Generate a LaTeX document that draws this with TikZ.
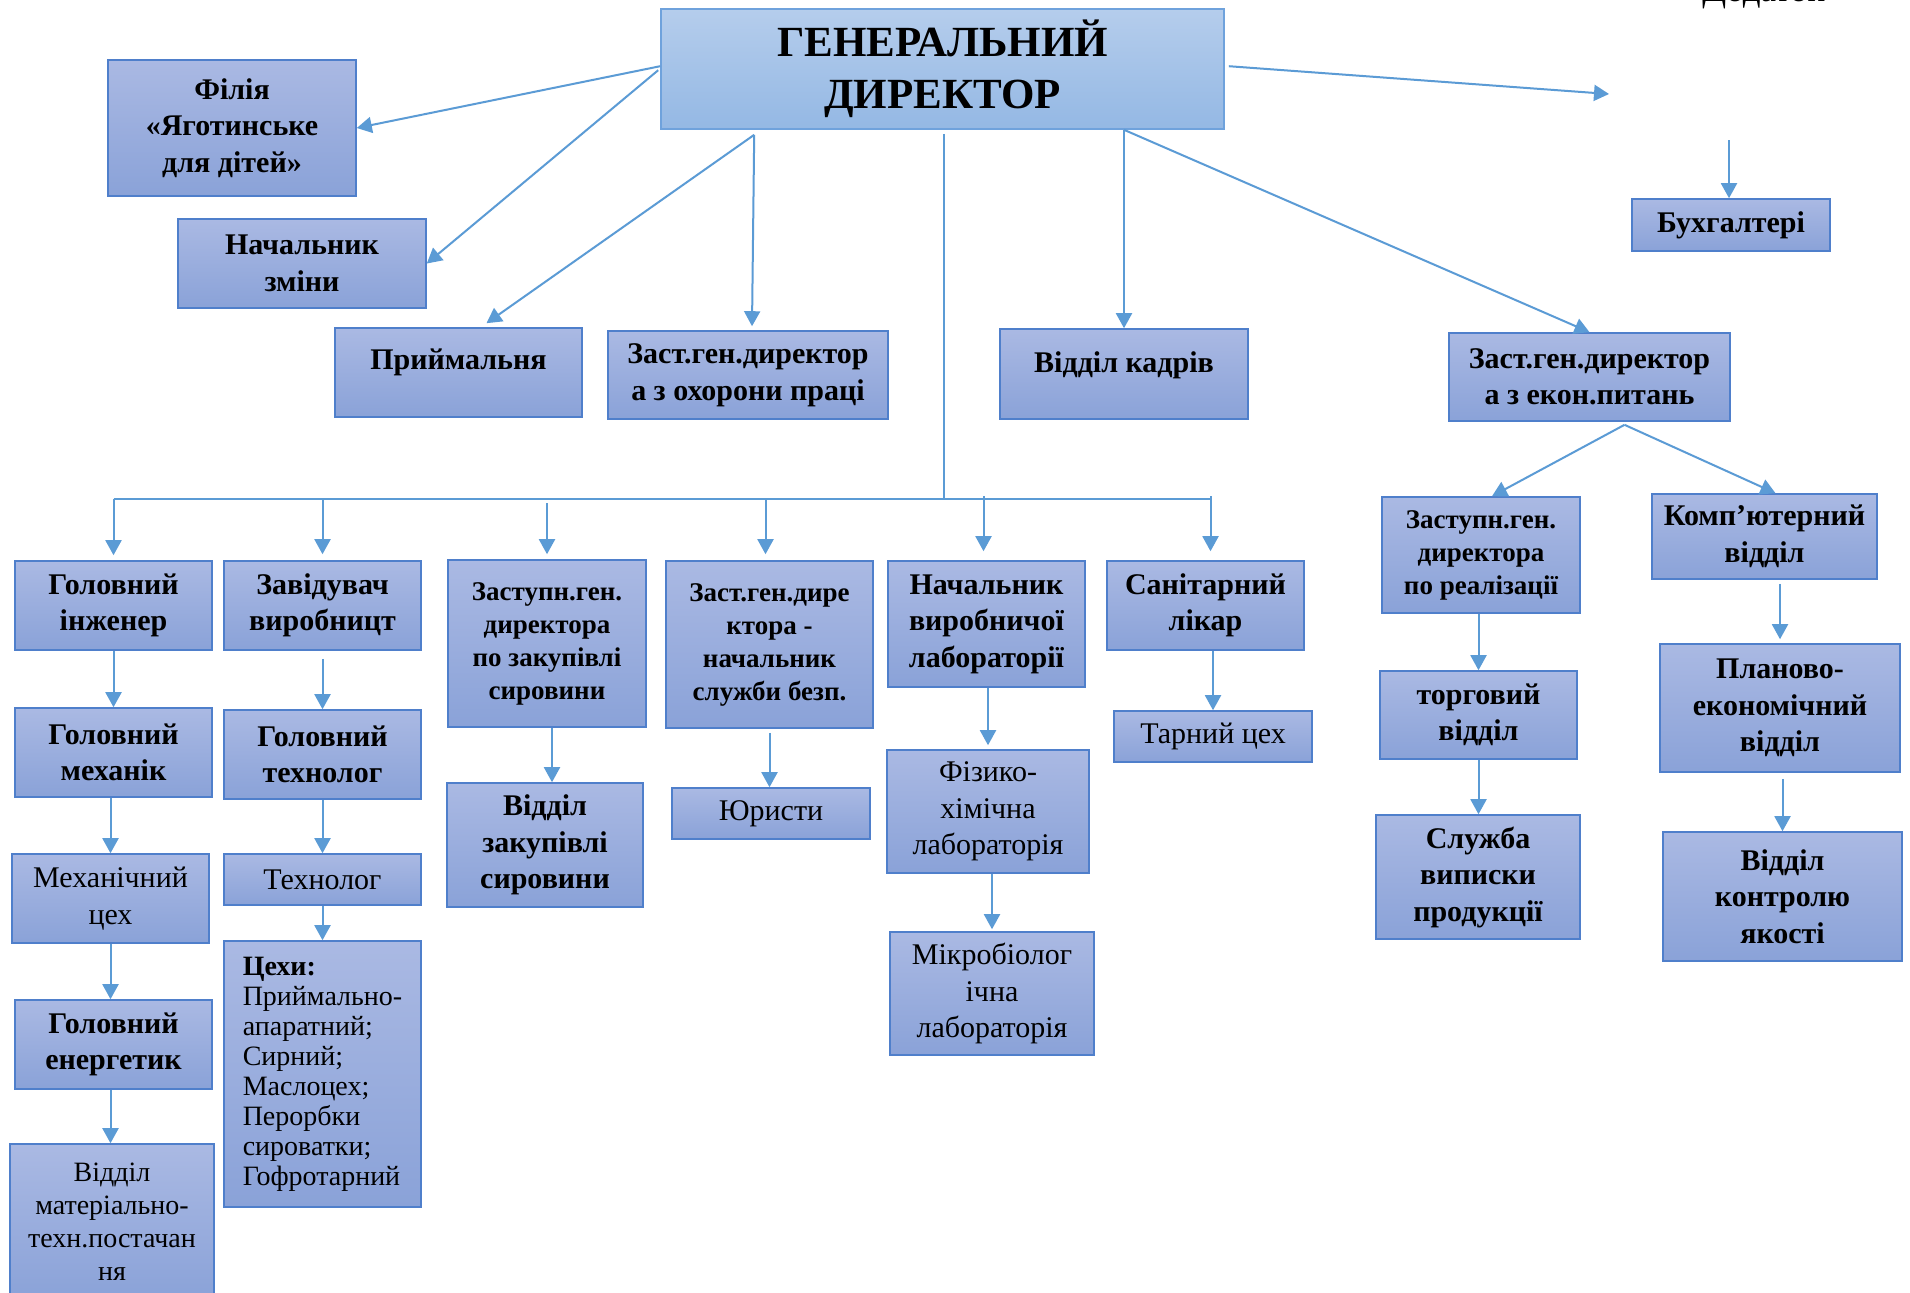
\documentclass[tikz,border=0pt]{standalone}
\usepackage{fontspec}
\setmainfont{Liberation Serif}[BoldFont={Liberation Serif Bold},ItalicFont={Liberation Serif Italic}]
\usetikzlibrary{arrows.meta,calc}
\definecolor{boxtop}{HTML}{AAB9E3}
\definecolor{boxbot}{HTML}{8AA2D8}
\definecolor{boxline}{HTML}{4F7FCB}
\definecolor{gdtop}{HTML}{B5CDEC}
\definecolor{gdbot}{HTML}{94B8E4}
\definecolor{gdline}{HTML}{6FA2DC}
\definecolor{arrc}{HTML}{5B9BD5}
\newcommand{\myfs}[2]{\fontsize{#1}{#2}\selectfont}
\begin{document}
\begin{tikzpicture}[x=0.5pt,y=-0.5pt,
  sz/.style 2 args={minimum width=#1*0.5pt, minimum height=#2*0.5pt},
  box/.style={draw=boxline, line width=0.8pt, top color=boxtop, bottom color=boxbot,
    inner sep=0pt, align=center, font=\bfseries\myfs{15pt}{18.25pt}},
  reg/.style={font=\myfs{15pt}{18.25pt}},
  small/.style={font=\bfseries\myfs{13.5pt}{16.5pt}},
  gdbox/.style={draw=gdline, line width=0.8pt, top color=gdtop, bottom color=gdbot,
    inner sep=0pt, align=center, font=\bfseries\myfs{21.5pt}{26pt}},
  arr/.style={draw=arrc, line width=1pt, -{Triangle[length=7.5pt,width=8pt]}},
  busline/.style={draw=arrc, line width=0.6pt}]
\useasboundingbox (0,0) rectangle (1910,1292);
\fill[white] (0,0) rectangle (1910,1292);

\node[anchor=base west, inner sep=0pt, font=\myfs{17.5pt}{20pt}] (dod) at (1702,1) {Додаток};

\node[gdbox, sz={563}{120}] (gd) at (942.5,69) {ГЕНЕРАЛЬНИЙ\\ДИРЕКТОР};
\node[box, sz={248}{136}] (fil) at (232,128) {Філія\\«Яготинське\\для дітей»};
\node[box, sz={248}{89}] (nz) at (302,263.5) {Начальник\\зміни};
\node[box, sz={247}{89}, text depth=13.3pt] (pr) at (458.5,372.5) {Приймальня};
\node[box, sz={280}{88}] (zo) at (748,375) {Заст.ген.директор\\а з охорони праці};
\node[box, sz={248}{90}, text depth=12pt] (vk) at (1124,374) {Відділ кадрів};
\node[box, sz={281}{88}] (ze) at (1589.5,377) {Заст.ген.директор\\а з екон.питань};
\node[box, sz={198}{52}] (bu) at (1731,225) {Бухгалтері};

\node[box, sz={197}{89}] (gi) at (113.5,605.5) {Головний\\інженер};
\node[box, sz={197}{89}] (zv) at (322.5,605.5) {Завідувач\\виробницт};
\node[box, small, sz={198}{167}] (zz) at (547,643.5) {Заступн.ген.\\директора\\по закупівлі\\сировини};
\node[box, small, sz={207}{167}] (zb) at (769.5,644.5) {Заст.ген.дире\\ктора -\\начальник\\служби безп.};
\node[box, sz={197}{126}] (nl) at (986.5,624) {Начальник\\виробничої\\лабораторії};
\node[box, sz={197}{89}] (sl) at (1205.5,605.5) {Санітарний\\лікар};
\node[box, small, sz={198}{116}] (zr) at (1481,555) {Заступн.ген.\\директора\\по реалізації};
\node[box, sz={225}{85}] (kv) at (1764.5,536.5) {Комп’ютерний\\відділ};

\node[box, sz={197}{89}] (gm) at (113.5,752.5) {Головний\\механік};
\node[box, reg, sz={197}{89}] (mc) at (110.5,898.5) {Механічний\\цех};
\node[box, sz={197}{89}] (ge) at (113.5,1044.5) {Головний\\енергетик};
\node[box, font=\myfs{14pt}{16.5pt}, sz={204}{156}] (mtp) at (112,1222) {Відділ\\матеріально-\\техн.постачан\\ня};

\node[box, sz={197}{89}] (gt) at (322.5,754.5) {Головний\\технолог};
\node[box, reg, sz={197}{51}] (tl) at (322.5,879.5) {Технолог};
\node[box, align=left, font=\myfs{14pt}{15pt}, sz={197}{266}] (ce) at (322.5,1074) {\textbf{Цехи:}\\Приймально-\\апаратний;\\Сирний;\\Маслоцех;\\Перорбки\\сироватки;\\Гофротарний};

\node[box, sz={196}{124}] (vz) at (545,845) {Відділ\\закупівлі\\сировини};
\node[box, reg, sz={198}{51}] (yu) at (771,813.5) {Юристи};
\node[box, reg, sz={202}{123}] (fh) at (988,811.5) {Фізико-\\хімічна\\лабораторія};
\node[box, reg, sz={204}{123}] (mb) at (992,993.5) {Мікробіолог\\ічна\\лабораторія};
\node[box, reg, sz={198}{51}] (tc) at (1213,736.5) {Тарний цех};

\node[box, sz={197}{88}] (tv) at (1478.5,715) {торговий\\відділ};
\node[box, sz={204}{124}] (sv) at (1478,877) {Служба\\виписки\\продукції};
\node[box, sz={240}{128}] (pe) at (1780,708) {Планово-\\економічний\\відділ};
\node[box, sz={239}{129}] (vkj) at (1782.5,896.5) {Відділ\\контролю\\якості};

% connectors from the director
\draw[arr] ($(gd.north west)+(0,58)$) -- (fil.east);
\draw[arr] ($(gd.north west)+(-2,62)$) -- (nz.east);
\draw[arr] ($(gd.south west)+(94,5)$) -- ($(pr.north)+(28,-4)$);
\draw[arr] ($(gd.south west)+(94,5)$) -- ($(zo.north)+(4,-4)$);
\draw[arr] (vk.north |- gd.south) -- (vk.north);
\draw[arr] (vk.north |- gd.south) -- (ze.north);
\coordinate (fr) at (1609,94);
\draw[arr] ($(gd.north east)+(4,58)$) -- (fr);
\coordinate (bs) at ($(bu.north)+(-2,-58)$);
\draw[arr] (bs) -- (bs |- bu.north);
\draw[arr] ($(ze.south)+(35,3)$) -- ($(zr.north)+(11,0)$);
\draw[arr] ($(ze.south)+(35,3)$) -- ($(kv.north)+(11,0)$);

% bus
\coordinate (bus) at (944,499);
\draw[busline] ($(bus |- gd.south)+(0,4)$) -- (bus);
\draw[busline] (gi.north |- bus) -- ($(sl.north |- bus)+(5,0)$);
\draw[arr] (gi.north |- bus) -- ($(gi.north)+(0,-5)$);
\draw[arr] (zv.north |- bus) -- ($(zv.north)+(0,-6)$);
\draw[arr] ($(zz.north |- bus)+(0,4)$) -- ($(zz.north)+(0,-5)$);
\draw[arr] ($(zb.north |- bus)+(-4,0)$) -- ($(zb.north)+(-4,-6)$);
\draw[arr] ($(nl.north |- bus)+(-3,-3)$) -- ($(nl.north)+(-3,-9)$);
\draw[arr] ($(sl.north |- bus)+(5,-3)$) -- ($(sl.north)+(5,-9)$);

% chains
\draw[arr] (gi.south) -- (gm.north);
\draw[arr] ($(gm.south)+(-3,0)$) -- ($(mc.north)$);
\draw[arr] (mc.south) -- ($(ge.north)+(-3,0)$);
\draw[arr] ($(ge.south)+(-3,0)$) -- ($(mtp.north)+(-1.5,0)$);
\draw[arr] ($(zv.south)+(0,8)$) -- (gt.north);
\draw[arr] (gt.south) -- (tl.north);
\draw[arr] (tl.south) -- (ce.north);
\draw[arr] ($(zz.south)+(5,0)$) -- ($(vz.north)+(7,0)$);
\draw[arr] ($(zb.south)+(0,4)$) -- (zb.south |- yu.north);
\draw[arr] (fh.north |- nl.south) -- ($(fh.north)+(0,-4)$);
\draw[arr] (mb.north |- fh.south) -- ($(mb.north)+(0,-2)$);
\draw[arr] (tc.north |- sl.south) -- (tc.north);
\draw[arr] (tv.north |- zr.south) -- (tv.north);
\draw[arr] (tv.south) -- (tv.south |- sv.north);
\draw[arr] ($(pe.north |- kv.south)+(0,4)$) -- ($(pe.north)+(0,-4)$);
\draw[arr] ($(vkj.north |- pe.south)+(0,6)$) -- (vkj.north);
\end{tikzpicture}
\end{document}
